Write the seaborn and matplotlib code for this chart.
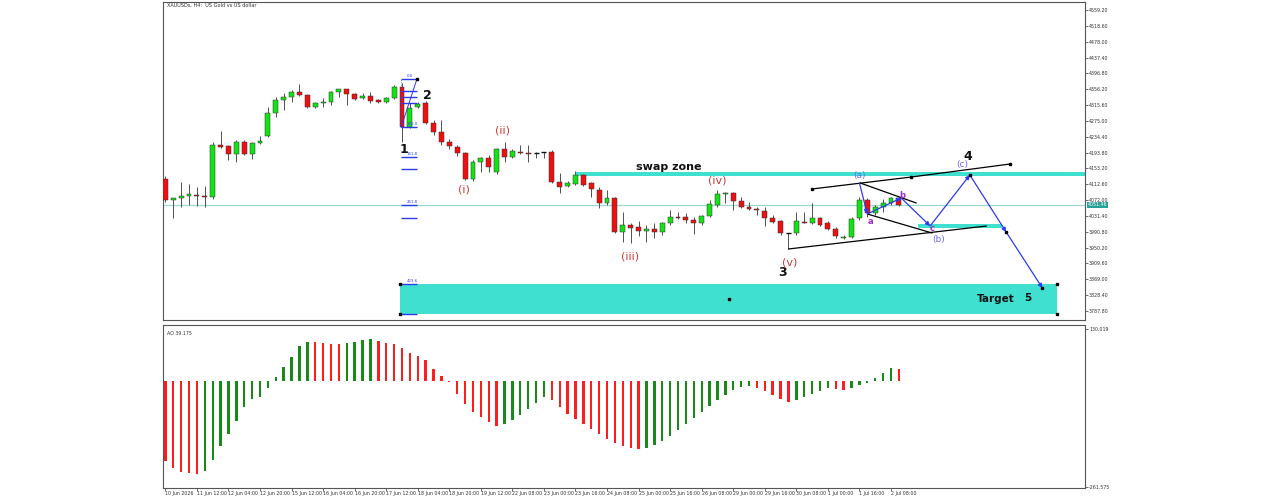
import numpy as np
import pandas as pd
import matplotlib
matplotlib.use("Agg")
import matplotlib.pyplot as plt
import seaborn as sns

# ---------------- data ----------------
opens = [4126.1, 4072.3, 4077.4, 4082.5, 4085.1, 4082.5, 4080.0, 4213.3, 4210.7, 4190.2,
         4221.0, 4190.2, 4218.4, 4236.4, 4295.3, 4328.5, 4336.2, 4349.0, 4341.3, 4310.6,
         4320.8, 4323.4, 4349.0, 4356.7, 4343.9, 4333.7, 4338.8, 4328.5, 4323.4, 4333.7,
         4361.9, 4259.4, 4310.6, 4320.8, 4269.6, 4246.6, 4221.0, 4208.1, 4192.7, 4126.1,
         4169.7, 4179.9, 4144.0, 4203.0, 4182.5, 4195.3, 4192.7, 4191.5, 4194.0, 4195.3,
         4118.4, 4108.1, 4113.3, 4136.3, 4115.8, 4097.9, 4064.6, 4077.4, 3990.3, 4008.2,
         4003.1, 3992.8, 3997.9, 3990.3, 4013.3, 4028.7, 4028.7, 4021.0, 4013.3, 4031.3,
         4059.5, 4087.6, 4090.2, 4069.7, 4054.3, 4049.2, 4044.1, 4026.1, 4018.5, 3987.7,
         3987.7, 4015.9, 4013.3, 4026.1, 4013.3, 3997.9, 3974.9, 3977.4, 4026.1, 4072.3,
         4039.0, 4054.3, 4064.6, 4077.4]
highs = [4133.8, 4077.4, 4118.4, 4113.3, 4105.6, 4108.1, 4221.0, 4249.1, 4212.0, 4226.1,
         4226.1, 4221.0, 4236.4, 4310.6, 4336.2, 4346.5, 4354.2, 4369.5, 4343.0, 4323.4,
         4333.7, 4351.6, 4358.0, 4358.0, 4346.5, 4346.5, 4349.0, 4331.1, 4336.2, 4367.0,
         4372.1, 4320.8, 4323.4, 4326.0, 4277.3, 4277.3, 4228.6, 4213.3, 4195.3, 4174.8,
         4182.5, 4187.6, 4205.6, 4221.0, 4203.0, 4213.3, 4213.3, 4195.3, 4195.3, 4200.4,
         4141.4, 4120.9, 4146.6, 4138.9, 4118.4, 4105.6, 4097.9, 4080.0, 4041.5, 4013.3,
         4018.5, 4008.2, 4013.3, 4015.9, 4046.7, 4041.5, 4039.0, 4028.7, 4033.8, 4072.3,
         4097.9, 4092.0, 4092.0, 4080.0, 4067.1, 4054.3, 4054.3, 4033.8, 4021.0, 3988.5,
         4041.5, 4041.5, 4064.6, 4028.7, 4018.5, 4003.1, 3982.6, 4028.7, 4080.0, 4077.4,
         4059.5, 4074.8, 4080.0, 4080.0]
lows = [4067.1, 4026.1, 4054.3, 4059.5, 4056.9, 4054.3, 4074.8, 4205.6, 4174.8, 4169.7,
        4187.6, 4177.4, 4216.0, 4233.8, 4285.0, 4302.9, 4323.4, 4338.8, 4308.0, 4308.0,
        4310.6, 4315.7, 4336.2, 4315.7, 4328.5, 4331.1, 4320.8, 4320.8, 4320.8, 4331.0,
        4221.0, 4256.9, 4308.0, 4267.1, 4238.9, 4213.3, 4203.0, 4185.1, 4123.5, 4120.9,
        4144.0, 4144.0, 4138.9, 4169.7, 4179.9, 4190.2, 4169.7, 4179.9, 4179.9, 4115.8,
        4090.2, 4105.6, 4110.7, 4108.1, 4080.0, 4051.8, 4059.5, 3987.7, 3964.6, 3962.1,
        3980.0, 3964.6, 3974.9, 3982.6, 4008.2, 4023.6, 4013.3, 3985.1, 4008.2, 4028.7,
        4054.3, 4064.6, 4046.7, 4051.8, 4046.7, 4033.8, 4005.6, 4013.3, 3982.6, 3946.7,
        3982.6, 4013.3, 4010.8, 4005.6, 3995.4, 3974.9, 3972.3, 3974.9, 4021.0, 4028.7,
        4033.8, 4041.5, 4059.5, 4056.9]
closes = [4072.3, 4077.4, 4082.5, 4087.6, 4082.5, 4080.0, 4213.3, 4208.1, 4190.2, 4221.0,
          4190.2, 4218.4, 4223.5, 4295.3, 4328.5, 4336.2, 4349.0, 4341.3, 4310.6, 4320.8,
          4323.4, 4349.0, 4356.7, 4343.9, 4331.1, 4338.8, 4326.0, 4323.4, 4333.7, 4361.9,
          4259.4, 4308.0, 4318.3, 4269.6, 4246.6, 4221.0, 4210.7, 4192.7, 4126.1, 4169.7,
          4179.9, 4156.7, 4203.0, 4182.5, 4197.9, 4192.7, 4190.2, 4191.5, 4194.0, 4118.4,
          4105.6, 4115.8, 4136.3, 4110.7, 4100.5, 4064.6, 4077.4, 3990.3, 4008.2, 4000.5,
          3992.8, 3997.9, 3990.3, 4013.3, 4028.7, 4026.1, 4021.0, 4013.3, 4031.3, 4062.0,
          4087.6, 4090.2, 4069.7, 4054.3, 4049.2, 4046.7, 4026.1, 4015.9, 3987.7, 3987.7,
          4018.5, 4013.3, 4026.1, 4008.2, 3997.9, 3980.0, 3977.4, 4023.6, 4072.3, 4039.0,
          4054.3, 4064.6, 4077.4, 4059.5]
ao_values = [-197, -214, -224, -227, -229, -222, -195, -160, -130, -98,
             -63, -43, -38, -16, 11, 36, 61, 88, 98, 97,
             95, 93, 92, 95, 98, 103, 104, 100, 95, 92,
             83, 71, 63, 53, 31, 14, -1, -31, -56, -76,
             -88, -100, -110, -105, -95, -83, -68, -53, -38, -46,
             -63, -81, -93, -105, -118, -130, -142, -152, -160, -165,
             -167, -165, -157, -147, -135, -120, -105, -90, -76, -61,
             -46, -33, -21, -14, -11, -16, -24, -33, -43, -51,
             -46, -38, -31, -24, -15, -18, -22, -16, -8, -3,
             8, 20, 33, 30]
date_labels = ["10 Jun 2026", "11 Jun 12:00", "12 Jun 04:00", "12 Jun 20:00", "15 Jun 12:00",
               "16 Jun 04:00", "16 Jun 20:00", "17 Jun 12:00", "18 Jun 04:00", "18 Jun 20:00",
               "19 Jun 12:00", "22 Jun 08:00", "23 Jun 00:00", "23 Jun 16:00", "24 Jun 08:00",
               "25 Jun 00:00", "25 Jun 16:00", "26 Jun 08:00", "29 Jun 00:00", "29 Jun 16:00",
               "30 Jun 08:00", "1 Jul 00:00", "1 Jul 16:00", "2 Jul 08:00"]
price_ticks = [4559.2, 4518.6, 4478.0, 4437.4, 4396.8, 4356.2, 4315.6, 4275.0, 4234.4, 4193.8,
               4153.2, 4112.6, 4072.0, 4031.4, 3990.8, 3950.2, 3909.6, 3869.0, 3828.4, 3787.8]
ao_ticks = [130.019, -261.575]
fib_levels = [4382.4, 4351.6, 4336.2, 4320.9, 4259.4, 4182.5, 4151.7, 4059.5, 4026.1, 3857.0, 3780.1]
current_price = 4059.5

# ---------------- style ----------------
sns.set_theme(style="white")
plt.rcParams['font.family'] = ['DejaVu Sans']

W, H = 1274, 500
fig = plt.figure(figsize=(W / 100, H / 100), dpi=100)
fig.patch.set_facecolor("white")
L, R = 163, 1085
ax = fig.add_axes([L / W, 1 - 320 / H, (R - L) / W, (320 - 2) / H])
ax2 = fig.add_axes([L / W, 1 - 488 / H, (R - L) / W, (488 - 325) / H])

n = len(opens)
idx = np.arange(n)
XMIN, XMAX = -0.3, 116.6
TICKFS = 3.4

GREEN = "#12e312"
RED = "#ee1010"
TEAL = "#40e0d0"
BLUE = "#2b3bf0"
LBLUE = "#6b6bf5"
WRED = "#cc3a3a"
PURP = "#a02cc8"

# ---------------- candles ----------------
for i in idx:
    o, h, l, c = opens[i], highs[i], lows[i], closes[i]
    ax.vlines(i, l, h, color="#505050", lw=0.7, zorder=3)
    if abs(c - o) < 0.5:
        ax.hlines(o, i - 0.32, i + 0.32, color="#111111", lw=1.0, zorder=4)
    else:
        col = GREEN if c > o else RED
        ax.bar(i, abs(c - o), bottom=min(o, c), width=0.62, color=col,
               edgecolor="#333333", linewidth=0.35, zorder=4)

ax.set_xlim(XMIN, XMAX)
ax.set_ylim(3764.7, 4579.7)

# current price line
ax.axhline(current_price, color="#9fd8d3", lw=0.9, zorder=1)

# swap zone
ax.fill_between([52.0, XMAX], 4133.8, 4144.0, color=TEAL, lw=0, zorder=2)
ax.text(63.8, 4157.5, "swap zone", fontsize=8, fontweight="bold", ha="center", va="center", color="#111")

# small teal zone
ax.fill_between([95.4, 106.1], 4000.5, 4010.8, color=TEAL, lw=0, zorder=2)

# target zone
ax.fill_between([29.8, 113.1], 3780.1, 3857.0, color=TEAL, lw=0, zorder=2)
for (xx, yy) in [(29.8, 3857.0), (113.1, 3857.0), (29.8, 3780.1), (113.1, 3780.1), (71.5, 3818.5)]:
    ax.plot(xx, yy, marker="s", ms=2, color="black", zorder=6, clip_on=False)
ax.text(105.3, 3818.5, "Target", fontsize=7.5, fontweight="bold", ha="center", va="center", color="#111")
ax.text(109.4, 3820.5, "5", fontsize=7.5, fontweight="bold", ha="center", va="center", color="#111")

# fibonacci tool
for lv in fib_levels:
    ax.hlines(lv, 29.9, 31.9, color=BLUE, lw=1.0, zorder=5)
ax.plot([29.9, 31.9], [4259.4, 4382.4], color=BLUE, lw=0.7, zorder=5)
ax.plot([29.9, 29.9], [4259.4, 4382.4], color=BLUE, lw=0.6, ls=":", zorder=5)
for lv, t in [(4382.4, "0.0"), (4259.4, "100.0"), (4182.5, "161.8"), (4059.5, "261.8"), (3857.0, "423.6")]:
    ax.text(30.6, lv + 3, t, fontsize=2.8, color=BLUE, ha="left", va="bottom", zorder=6)
ax.plot(31.9, 4382.4, marker="s", ms=1.5, color="black", zorder=6)

# trend lines
ax.plot([82.0, 94.6, 107.1], [4100.5, 4131.2, 4164.5], color="black", lw=0.9, zorder=5,
        marker="s", ms=2)
ax.plot([79.0, 104.1], [3946.7, 4005.6], color="black", lw=0.9, zorder=5)
ax.plot([88.1, 95.2], [4115.8, 4064.6], color="black", lw=0.9, zorder=5)
ax.plot([89.0, 97.2], [4036.4, 3987.7], color="black", lw=0.9, zorder=5)

# blue zigzag projection
path = [(88.0, 4115.8), (89.0, 4036.4), (93.3, 4077.4), (96.96, 4005.6),
        (102.0, 4136.3), (106.6, 3990.3), (111.2, 3846.7)]
for (x0, y0), (x1, y1) in zip(path[:-1], path[1:]):
    ax.annotate("", xy=(x1, y1), xytext=(x0, y0),
                arrowprops=dict(arrowstyle="-|>", color=BLUE, lw=0.9, mutation_scale=6,
                                shrinkA=0, shrinkB=0), zorder=6)
for (xx, yy) in [(102.0, 4136.3), (106.6, 3990.3), (111.2, 3846.7)]:
    ax.plot(xx, yy, marker="s", ms=2, color="black", zorder=7)

# wave labels
for t, xx, yy in [("1", 30.3, 4200.4), ("2", 33.2, 4338.8), ("3", 78.3, 3885.2), ("4", 101.7, 4185.0)]:
    ax.text(xx, yy, t, fontsize=9, fontweight="bold", color="#111", ha="center", va="center", zorder=8)
for t, xx, yy in [("(i)", 37.8, 4097.9), ("(ii)", 42.8, 4249.1), ("(iii)", 58.9, 3928.7),
                  ("(iv)", 70.0, 4123.5), ("(v)", 79.1, 3910.8)]:
    ax.text(xx, yy, t, fontsize=8, color=WRED, ha="center", va="center", zorder=8)
for t, xx, yy in [("(a)", 88.0, 4136.3), ("(b)", 98.0, 3969.8), ("(c)", 101.0, 4162.0)]:
    ax.text(xx, yy, t, fontsize=6.5, color=LBLUE, ha="center", va="center", zorder=8)
for t, xx, yy in [("a", 89.4, 4015.9), ("b", 93.4, 4082.5), ("c", 97.2, 3998.0)]:
    ax.text(xx, yy, t, fontsize=6, fontweight="bold", color=PURP, ha="center", va="center", zorder=8)

# axes styling (main)
ax.yaxis.tick_right()
ax.set_yticks(price_ticks)
ax.set_yticklabels([f"{v:.2f}" for v in price_ticks], fontsize=TICKFS, color="#333")
ax.tick_params(axis="y", length=2, width=0.5, pad=1, colors="#333", right=True)
ax.set_xticks([])
for s in ax.spines.values():
    s.set_color("#555")
    s.set_linewidth(0.8)
ax.annotate(f"{current_price - 8.04:.2f}", xy=(1.0, current_price), xycoords=("axes fraction", "data"),
            xytext=(2, 0), textcoords="offset points", fontsize=TICKFS, color="white", va="center",
            bbox=dict(boxstyle="square,pad=0.15", fc="#2aa198", ec="none"))
fig.text(167 / W, 1 - 5 / H, "XAUUSDs, H4:  US Gold vs US dollar", fontsize=3.6, va="center", color="#333")

# ---------------- AO panel (seaborn) ----------------
ao = np.array(ao_values, dtype=float)
direction = ["down"] + ["up" if ao[i] > ao[i - 1] else "down" for i in range(1, n)]
df = pd.DataFrame({"idx": idx, "ao": ao, "dir": direction})
sns.barplot(data=df, x="idx", y="ao", hue="dir", palette={"up": "#178a17", "down": "#ff1c1c"},
            native_scale=True, width=0.3, dodge=False, legend=False, errorbar=None,
            saturation=1, linewidth=0, ax=ax2)
BW = 0.3
for p in ax2.patches:
    cx = p.get_x() + p.get_width() / 2
    p.set_width(BW)
    p.set_x(cx - BW / 2)
    p.set_linewidth(0)
ax2.set_xlim(XMIN, XMAX)
ax2.set_ylim(-264.0, 139.9)
ax2.set_xlabel("")
ax2.set_ylabel("")
ax2.yaxis.tick_right()
ax2.set_yticks(ao_ticks)
ax2.set_yticklabels(["130.019", "-261.575"], fontsize=TICKFS, color="#333")
ax2.tick_params(axis="y", length=2, width=0.5, pad=1, colors="#333", right=True, left=False)
ax2.set_xticks(np.arange(0, n, 4))
ax2.set_xticklabels(date_labels, fontsize=TICKFS, color="#333", ha="left")
ax2.tick_params(axis="x", length=2, width=0.5, pad=0.5, colors="#333", bottom=True)
for s in ax2.spines.values():
    s.set_color("#555")
    s.set_linewidth(0.8)
ax2.text(0.004, 0.965, "AO 39.175", transform=ax2.transAxes, fontsize=TICKFS, color="#333",
         ha="left", va="top")

fig.savefig("out.png", dpi=100, facecolor="white")
